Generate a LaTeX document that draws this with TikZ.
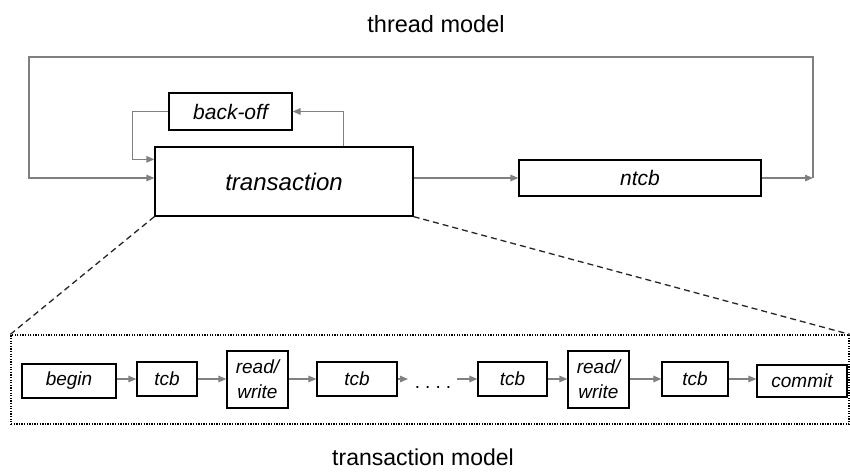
\documentclass[tikz,border=0pt]{standalone}
\usepackage{fontspec}
\setmainfont{Liberation Sans}
\usetikzlibrary{arrows.meta,calc}
\definecolor{arrgray}{RGB}{128,128,128}
\begin{document}
\begin{tikzpicture}[x=1pt,y=-1pt,
  box/.style={draw=black,line width=1.3pt,inner sep=0pt,align=center,font=\itshape},
  big/.style={box,font=\fontsize{24}{28}\selectfont\itshape},
  mid/.style={box,font=\fontsize{21}{25}\selectfont\itshape},
  small/.style={box,font=\fontsize{19}{25}\selectfont\itshape},
  arr/.style={draw=arrgray,line width=1.3pt,-{Triangle[length=8pt,width=6.5pt]}},
  lin/.style={draw=arrgray,line width=1.3pt},
  title/.style={font=\fontsize{23.5}{28}\selectfont,inner sep=0pt,anchor=base}
]
\useasboundingbox (0,0) rectangle (850,471);
\fill[white] (0,0) rectangle (850,471);

\node[title] (tt) at (436,32) {thread model};
\node[title,font=\fontsize{23}{28}\selectfont] (tm) at (423,465) {transaction model};

\node[big,minimum width=258pt,minimum height=69pt] (transaction) at (284,181.5) {transaction};
\node[mid,minimum width=123pt,minimum height=37pt] (backoff) at (230.5,111.5) {back-off};
\node[mid,minimum width=242pt,minimum height=36pt] (ntcb) at (640,178) {ntcb};

\coordinate (R) at (813,178);
\coordinate (RT) at (813,57);
\coordinate (LT) at (29,57);
\draw[arr] (transaction.east |- ntcb) -- (ntcb.west);
\draw[arr] (ntcb.east) -- (R);
\draw[arr] (R) -- (RT) -- (LT) |- (transaction.west |- ntcb);
\draw[arr] ($(transaction.north west)!0.73!(transaction.north east)$) |- (backoff.east);
\draw[arr] (backoff.west) -- ++(-36,0) |- ($(transaction.north west)+(0,13)$);

\node[draw=black,line width=1.3pt,dash pattern=on 1.3pt off 1.3pt,minimum width=838pt,minimum height=89pt,inner sep=0pt] (frame) at (430,379.5) {};
\draw[line width=1.3pt,dash pattern=on 6pt off 4pt,black!85] (transaction.south west) -- (frame.north west);
\draw[line width=1.3pt,dash pattern=on 6pt off 4pt,black!85] (transaction.south east) -- (frame.north east);

\node[small,minimum width=94pt,minimum height=34pt] (begin) at (69,381) {begin};
\node[small,minimum width=60pt,minimum height=34pt] (tcb1) at (167,379) {tcb};
\node[small,minimum width=61pt,minimum height=57pt] (rw1) at (257.5,379.5) {read/\\write};
\node[small,minimum width=80pt,minimum height=34pt] (tcb2) at (357,379) {tcb};
\node[font=\fontsize{19}{25}\selectfont,inner sep=0pt,anchor=base] (dots) at (433,388) {.\hspace{5pt}.\hspace{5pt}.\hspace{5pt}.};
\node[small,minimum width=69pt,minimum height=34pt] (tcb3) at (512.5,379) {tcb};
\node[small,minimum width=61pt,minimum height=57pt] (rw2) at (598.5,379.5) {read/\\write};
\node[small,minimum width=66pt,minimum height=34pt] (tcb4) at (695,379) {tcb};
\node[small,minimum width=90pt,minimum height=32pt] (commit) at (802,381) {commit};

\coordinate (d1) at (408,379);
\coordinate (d2) at (457,379);
\draw[arr] (begin.east |- tcb1) -- (tcb1.west);
\draw[arr] (tcb1.east) -- (rw1.west |- tcb1);
\draw[arr] (rw1.east |- tcb2) -- (tcb2.west);
\draw[arr] (tcb2.east) -- (d1);
\draw[arr] (d2) -- (tcb3.west);
\draw[arr] (tcb3.east) -- (rw2.west |- tcb3);
\draw[arr] (rw2.east |- tcb4) -- (tcb4.west);
\draw[arr] (tcb4.east) -- (commit.west |- tcb4);
\end{tikzpicture}
\end{document}
